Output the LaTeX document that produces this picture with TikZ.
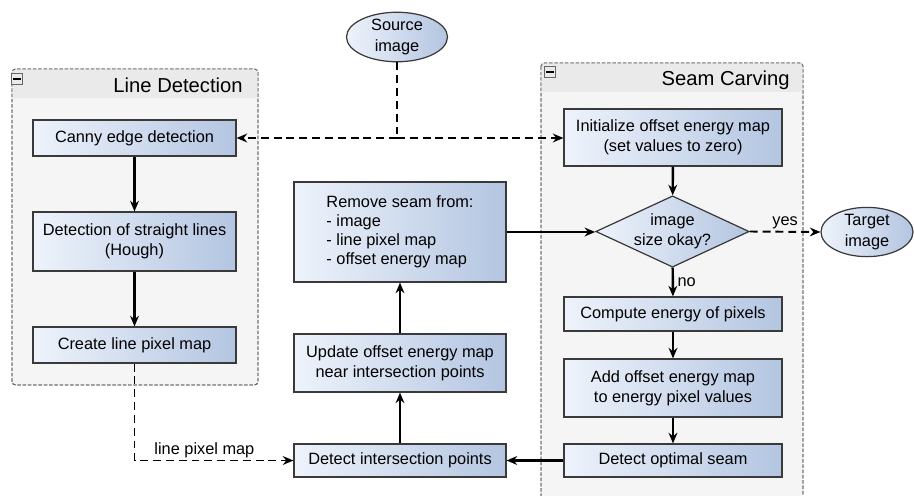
\documentclass[tikz,border=0pt]{standalone}
\usepackage{fontspec}
\setmainfont{Liberation Sans}
\usetikzlibrary{arrows.meta, positioning, shapes.geometric}
\definecolor{boxleft}{HTML}{EEF3FB}
\definecolor{boxright}{HTML}{B3C5E1}
\definecolor{boxline}{HTML}{3A3A3A}
\definecolor{groupfill}{HTML}{F5F5F5}
\definecolor{grouphead}{HTML}{EAEAEA}
\tikzset{
    stepbox/.style={draw=boxline, line width=0.7pt, left color=boxleft, right color=boxright,
        font=\fontsize{9.3}{11.5}\selectfont, align=center, inner sep=2pt},
    decision/.style={diamond, aspect=2.15, draw=boxline, line width=0.7pt, left color=boxleft, right color=boxright,
        font=\fontsize{9.3}{11.5}\selectfont, align=center, inner sep=0pt,
        minimum width=3.06cm, minimum height=1.42cm},
    terminal/.style={ellipse, draw=boxline, line width=0.7pt, left color=boxleft, right color=boxright,
        font=\fontsize{9.3}{11.5}\selectfont, align=center, inner sep=0pt, minimum height=0.92cm},
    group/.style={draw=boxline!80, dash pattern=on 2pt off 1pt, line width=0.5pt,
        fill=groupfill, rounded corners=2pt},
    flow/.style={-{Stealth[length=6pt, width=5pt]}, line width=1.4pt},
    dataflow/.style={-{Stealth[length=6pt, width=5pt]}, line width=1.1pt, dash pattern=on 4.5pt off 2.8pt},
    lbl/.style={font=\fontsize{9.3}{11.5}\selectfont, inner sep=1pt},
    grouptitle/.style={font=\fontsize{11.5}{13}\selectfont, anchor=east, inner sep=0pt},
    minusbox/.style={draw=gray!80!black, fill=grouphead, line width=0.4pt, minimum size=0.22cm, inner sep=0pt}
}

\begin{document}
\begin{tikzpicture}[x=0.02cm, y=-0.02cm]
    \clip (0,0) rectangle (914,495);
    \useasboundingbox (0,0) rectangle (914,495);

    % groups
    \draw[group] (12,69) rectangle (258,385);
    \fill[grouphead] (12.4,69.4) rectangle (257.6,98);
    \draw[group, fill=none] (12,69) rectangle (258,385);
    \node[minusbox] (ldmin) at (17,79) {};
    \draw[line width=0.8pt] ([xshift=-2pt]ldmin.center) -- ([xshift=2pt]ldmin.center);
    \node[grouptitle] (ldtitle) at (243,85) {Line Detection};

    \draw[group] (541,63) rectangle (803,520);
    \fill[grouphead] (541.4,63.4) rectangle (802.6,92);
    \draw[group, fill=none] (541,63) rectangle (803,520);
    \node[minusbox] (scmin) at (550,72) {};
    \draw[line width=0.8pt] ([xshift=-2pt]scmin.center) -- ([xshift=2pt]scmin.center);
    \node[grouptitle] (sctitle) at (790,80) {Seam Carving};

    % line detection
    \node[stepbox, minimum width=4.06cm, minimum height=0.72cm] (canny) at (134.5,138) {Canny edge detection};
    \node[stepbox, minimum width=4.06cm, minimum height=1.18cm] (hough) at (134.5,241.5) {Detection of straight lines\\(Hough)};
    \node[stepbox, minimum width=4.06cm, minimum height=0.72cm] (linemap) at (134.5,345) {Create line pixel map};

    % middle column
    \node[stepbox, minimum width=4.24cm, minimum height=2cm, align=left, font=\fontsize{9.3}{10.8}\selectfont] (remove) at (400,232)
        {Remove seam from:\\ - image\\ - line pixel map\\ - offset energy map};
    \node[stepbox, minimum width=4.24cm, minimum height=1.16cm] (update) at (400,363) {Update offset energy map\\near intersection points};
    \node[stepbox, minimum width=4.24cm, minimum height=0.66cm] (intersect) at (400,460.5) {Detect intersection points};

    % seam carving
    \node[stepbox, minimum width=4.36cm, minimum height=1.14cm] (init) at (673,137.5) {Initialize offset energy map\\(set values to zero)};
    \node[decision] (check) at (672.5,231.5) {image\\size okay?};
    \node[stepbox, minimum width=4.36cm, minimum height=0.68cm] (energy) at (673,314) {Compute energy of pixels};
    \node[stepbox, minimum width=4.36cm, minimum height=1.16cm] (addoff) at (673,388) {Add offset energy map\\to energy pixel values};
    \node[stepbox, minimum width=4.36cm, minimum height=0.66cm] (optseam) at (673,460.5) {Detect optimal seam};

    % input and output
    \node[terminal, minimum width=2.02cm] (source) at (397,37) {Source\\image};
    \node[terminal, minimum width=1.84cm] (target) at (867,232) {Target\\image};

    % connectors
    \coordinate (split) at (source |- canny.east);
    \draw[dataflow, -] (source.south) -- (split);
    \draw[dataflow] (split) -- (canny.east);
    \draw[dataflow] (split) -- (split -| init.west);
    \draw[flow] (canny) -- (hough);
    \draw[flow] (hough) -- (linemap);
    \draw[dataflow] (linemap.south) |- node[lbl, pos=0.72, above] {line pixel map} (intersect.west);
    \draw[flow] (init) -- (check);
    \draw[flow] (check) -- node[lbl, right, xshift=1pt] {no} (energy);
    \draw[flow] (energy) -- (addoff);
    \draw[flow] (addoff) -- (optseam);
    \draw[flow] (optseam) -- (intersect);
    \draw[flow] (intersect) -- (update);
    \draw[flow] (update) -- (remove);
    \draw[flow] (remove.east) -- (remove.east -| check.west);
    \draw[dataflow] (check.east) -- node[lbl, above] {yes} (target.west);
\end{tikzpicture}
\end{document}
